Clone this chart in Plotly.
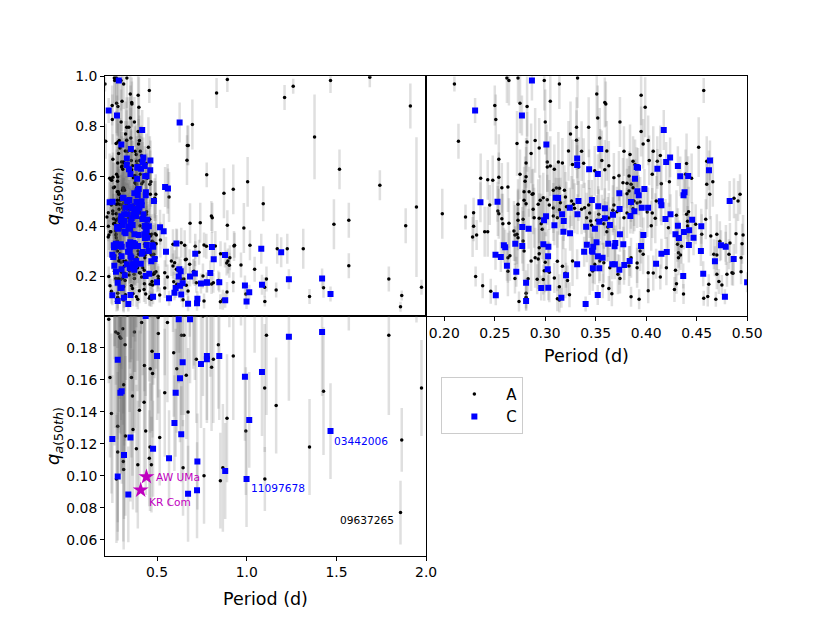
import plotly.graph_objects as go

# (period, q, err) rows
A_short = [
    (0.210, 0.969, 0.03), (0.214, 0.740, 0.07), (0.262, 0.993, 0.10), (0.264, 0.983, 0.10),
    (0.273, 0.993, 0.10), (0.299, 0.983, 0.12), (0.314, 0.969, 0.10), (0.332, 0.993, 0.12),
    (0.351, 0.929, 0.10), (0.359, 0.895, 0.10), (0.360, 0.889, 0.09), (0.374, 0.817, 0.10),
    (0.395, 0.924, 0.12), (0.399, 0.876, 0.12), (0.402, 0.743, 0.10), (0.395, 0.779, 0.10),
    (0.457, 0.943, 0.05), (0.452, 0.716, 0.12), (0.275, 0.892, 0.12), (0.282, 0.879, 0.12),
    (0.272, 0.731, 0.13), (0.254, 0.668, 0.10), (0.251, 0.827, 0.10), (0.250, 0.883, 0.08),
    (0.305, 0.900, 0.12), (0.331, 0.796, 0.12), (0.300, 0.817, 0.13), (0.282, 0.737, 0.12),
    (0.286, 0.691, 0.12), (0.290, 0.743, 0.13), (0.294, 0.713, 0.12), (0.302, 0.657, 0.12),
    (0.281, 0.653, 0.10), (0.275, 0.607, 0.10), (0.302, 0.636, 0.10), (0.305, 0.640, 0.12),
    (0.309, 0.627, 0.10), (0.313, 0.657, 0.12), (0.323, 0.701, 0.12), (0.317, 0.653, 0.10),
    (0.327, 0.647, 0.10), (0.333, 0.636, 0.12), (0.336, 0.700, 0.12), (0.338, 0.652, 0.10),
    (0.356, 0.663, 0.12), (0.349, 0.621, 0.10), (0.359, 0.625, 0.12), (0.361, 0.701, 0.12),
    (0.325, 0.769, 0.13), (0.331, 0.744, 0.12), (0.343, 0.796, 0.12), (0.352, 0.833, 0.13),
    (0.354, 0.753, 0.12), (0.378, 0.700, 0.10), (0.384, 0.687, 0.12), (0.397, 0.729, 0.10),
    (0.403, 0.663, 0.10), (0.407, 0.700, 0.10), (0.414, 0.683, 0.12), (0.411, 0.660, 0.10),
    (0.387, 0.660, 0.10), (0.383, 0.600, 0.10), (0.373, 0.601, 0.10), (0.389, 0.647, 0.10),
    (0.377, 0.573, 0.10), (0.363, 0.641, 0.10), (0.368, 0.593, 0.10), (0.385, 0.567, 0.10),
    (0.406, 0.607, 0.10), (0.415, 0.569, 0.10), (0.423, 0.577, 0.10), (0.440, 0.651, 0.12),
    (0.439, 0.607, 0.10), (0.460, 0.660, 0.10), (0.445, 0.591, 0.10), (0.460, 0.567, 0.10),
    (0.466, 0.577, 0.10), (0.487, 0.511, 0.08), (0.493, 0.527, 0.08), (0.491, 0.500, 0.08),
    (0.463, 0.527, 0.10),
    (0.198, 0.449, 0.10), (0.221, 0.436, 0.05), (0.229, 0.453, 0.06), (0.229, 0.399, 0.06),
    (0.232, 0.364, 0.06), (0.236, 0.591, 0.10), (0.243, 0.585, 0.08), (0.245, 0.484, 0.08),
    (0.243, 0.377, 0.10), (0.240, 0.377, 0.10), (0.248, 0.583, 0.10), (0.254, 0.595, 0.10),
    (0.257, 0.553, 0.10), (0.263, 0.556, 0.10), (0.253, 0.460, 0.10), (0.254, 0.449, 0.10),
    (0.257, 0.429, 0.10), (0.264, 0.411, 0.10), (0.269, 0.380, 0.12), (0.273, 0.487, 0.10),
    (0.273, 0.449, 0.10), (0.281, 0.597, 0.12), (0.280, 0.579, 0.10), (0.279, 0.537, 0.10),
    (0.284, 0.537, 0.10), (0.288, 0.529, 0.10), (0.279, 0.503, 0.10), (0.281, 0.489, 0.10),
    (0.287, 0.527, 0.10), (0.288, 0.467, 0.10), (0.289, 0.433, 0.12), (0.294, 0.431, 0.10),
    (0.296, 0.409, 0.12), (0.297, 0.387, 0.12), (0.293, 0.487, 0.10), (0.295, 0.503, 0.10),
    (0.298, 0.513, 0.10), (0.302, 0.505, 0.10), (0.304, 0.484, 0.10), (0.308, 0.543, 0.10),
    (0.308, 0.472, 0.10), (0.314, 0.465, 0.10), (0.312, 0.433, 0.12), (0.308, 0.440, 0.10),
    (0.311, 0.552, 0.10), (0.314, 0.551, 0.10), (0.319, 0.543, 0.10), (0.320, 0.516, 0.10),
    (0.315, 0.493, 0.10), (0.321, 0.477, 0.10), (0.326, 0.500, 0.10), (0.328, 0.487, 0.10),
    (0.329, 0.471, 0.10), (0.336, 0.467, 0.10), (0.339, 0.473, 0.10), (0.343, 0.484, 0.10),
    (0.341, 0.433, 0.10), (0.344, 0.452, 0.10), (0.345, 0.420, 0.10), (0.346, 0.403, 0.12),
    (0.351, 0.423, 0.10), (0.353, 0.447, 0.10), (0.356, 0.425, 0.10), (0.358, 0.409, 0.10),
    (0.362, 0.396, 0.12), (0.361, 0.377, 0.12), (0.363, 0.432, 0.10), (0.367, 0.463, 0.10),
    (0.368, 0.484, 0.10), (0.371, 0.457, 0.10), (0.378, 0.433, 0.10), (0.381, 0.452, 0.10),
    (0.385, 0.489, 0.10), (0.387, 0.469, 0.10), (0.388, 0.500, 0.10), (0.391, 0.492, 0.10),
    (0.394, 0.496, 0.10), (0.381, 0.529, 0.10), (0.383, 0.540, 0.10), (0.387, 0.553, 0.10),
    (0.381, 0.571, 0.10), (0.401, 0.456, 0.10), (0.406, 0.452, 0.10), (0.409, 0.431, 0.10),
    (0.405, 0.401, 0.10), (0.410, 0.500, 0.10), (0.422, 0.393, 0.10), (0.430, 0.443, 0.10),
    (0.440, 0.447, 0.10), (0.442, 0.457, 0.10), (0.441, 0.419, 0.10), (0.432, 0.293, 0.06),
    (0.434, 0.284, 0.06), (0.441, 0.400, 0.08), (0.449, 0.407, 0.08), (0.455, 0.367, 0.08),
    (0.459, 0.427, 0.08), (0.464, 0.360, 0.08), (0.470, 0.367, 0.08), (0.473, 0.339, 0.08),
    (0.479, 0.324, 0.08), (0.483, 0.332, 0.08), (0.489, 0.369, 0.08), (0.496, 0.364, 0.08),
    (0.495, 0.329, 0.08), (0.494, 0.273, 0.06), (0.482, 0.287, 0.06), (0.467, 0.287, 0.06),
    (0.470, 0.284, 0.06), (0.485, 0.213, 0.05), (0.480, 0.207, 0.05), (0.494, 0.217, 0.05),
    (0.486, 0.211, 0.05),
    (0.228, 0.356, 0.08), (0.263, 0.273, 0.10), (0.263, 0.219, 0.10), (0.265, 0.281, 0.10),
    (0.272, 0.367, 0.12), (0.273, 0.353, 0.12), (0.278, 0.340, 0.12), (0.279, 0.300, 0.12),
    (0.286, 0.260, 0.12), (0.290, 0.273, 0.12), (0.293, 0.268, 0.12), (0.294, 0.289, 0.12),
    (0.300, 0.255, 0.12), (0.299, 0.221, 0.12), (0.304, 0.215, 0.12), (0.312, 0.259, 0.12),
    (0.317, 0.239, 0.12), (0.320, 0.211, 0.10), (0.327, 0.260, 0.10), (0.344, 0.204, 0.08),
    (0.347, 0.220, 0.08), (0.349, 0.247, 0.08), (0.354, 0.260, 0.08), (0.358, 0.253, 0.08),
    (0.364, 0.233, 0.08), (0.372, 0.207, 0.08), (0.378, 0.245, 0.08), (0.383, 0.240, 0.08),
    (0.385, 0.273, 0.08), (0.391, 0.233, 0.08), (0.391, 0.252, 0.08), (0.394, 0.300, 0.08),
    (0.397, 0.287, 0.08), (0.402, 0.213, 0.07), (0.407, 0.212, 0.07), (0.420, 0.233, 0.07),
    (0.431, 0.327, 0.07), (0.432, 0.273, 0.07), (0.429, 0.223, 0.07), (0.435, 0.319, 0.07),
    (0.470, 0.207, 0.06), (0.294, 0.313, 0.12), (0.278, 0.427, 0.12), (0.273, 0.423, 0.12),
    (0.270, 0.364, 0.12), (0.258, 0.409, 0.12),
]

A_long = [
    (0.892, 0.987, 0.05), (0.832, 0.933, 0.06), (0.697, 0.807, 0.10), (0.669, 0.723, 0.08),
    (0.674, 0.723, 0.08), (0.667, 0.664, 0.10), (0.777, 0.605, 0.05), (1.005, 0.577, 0.10),
    (0.873, 0.531, 0.10), (0.925, 0.547, 0.10), (1.092, 0.489, 0.07), (0.684, 0.411, 0.08),
    (0.741, 0.413, 0.08), (0.803, 0.440, 0.06), (0.808, 0.433, 0.06), (0.892, 0.403, 0.06),
    (0.984, 0.392, 0.10), (1.018, 0.323, 0.06), (0.932, 0.323, 0.05), (0.888, 0.252, 0.05),
    (0.903, 0.243, 0.05), (0.968, 0.244, 0.05), (0.762, 0.324, 0.05), (0.775, 0.319, 0.05),
    (0.825, 0.320, 0.06), (0.713, 0.319, 0.05), (0.734, 0.295, 0.05), (0.854, 0.289, 0.05),
    (0.589, 0.327, 0.06), (0.611, 0.327, 0.06), (0.567, 0.516, 0.10), (0.559, 0.549, 0.10),
    (0.658, 0.265, 0.06), (0.682, 0.247, 0.06), (0.702, 0.217, 0.05), (1.044, 0.227, 0.05),
    (1.170, 0.309, 0.06), (1.226, 0.309, 0.06), (1.315, 0.309, 0.08), (1.378, 0.757, 0.17),
    (1.211, 0.915, 0.05), (1.259, 0.960, 0.03), (1.467, 0.983, 0.05), (1.686, 0.996, 0.04),
    (1.517, 0.627, 0.08), (1.486, 0.407, 0.10), (1.569, 0.423, 0.07), (1.569, 0.241, 0.05),
    (1.742, 0.563, 0.06), (1.886, 0.401, 0.07), (1.912, 0.881, 0.09), (1.946, 0.476, 0.28),
    (0.519, 0.344, 0.07), (0.635, 0.333, 0.06), (0.654, 0.323, 0.06), (0.929, 0.320, 0.06),
    (0.580, 0.260, 0.06), (0.589, 0.240, 0.05), (0.598, 0.253, 0.05), (0.663, 0.267, 0.06),
    (0.706, 0.219, 0.05), (0.756, 0.200, 0.05), (0.543, 0.213, 0.05), (0.608, 0.227, 0.05),
    (0.617, 0.200, 0.05), (0.895, 0.260, 0.05), (0.906, 0.273, 0.05),
]

A_low = [
    (0.231, 0.198, 0.04), (0.238, 0.1615, 0.05), (0.246, 0.139, 0.05), (0.270, 0.190, 0.06),
    (0.283, 0.189, 0.06), (0.292, 0.187, 0.06), (0.298, 0.186, 0.06), (0.309, 0.192, 0.06),
    (0.322, 0.182, 0.06), (0.314, 0.157, 0.05), (0.357, 0.1615, 0.05), (0.363, 0.150, 0.05),
    (0.374, 0.190, 0.06), (0.281, 0.131, 0.06), (0.281, 0.115, 0.05), (0.312, 0.109, 0.05),
    (0.314, 0.104, 0.05), (0.274, 0.098, 0.04), (0.385, 0.117, 0.04), (0.393, 0.107, 0.04),
    (0.402, 0.141, 0.05), (0.428, 0.146, 0.05), (0.437, 0.128, 0.04), (0.461, 0.118, 0.04),
    (0.472, 0.178, 0.05), (0.506, 0.199, 0.05), (0.507, 0.189, 0.05), (0.558, 0.196, 0.05),
    (0.515, 0.124, 0.03), (0.543, 0.152, 0.04), (0.593, 0.177, 0.04), (0.610, 0.167, 0.04),
    (0.636, 0.188, 0.05), (0.650, 0.188, 0.05), (0.663, 0.163, 0.04), (0.673, 0.140, 0.04),
    (0.645, 0.105, 0.03), (0.762, 0.100, 0.03), (0.842, 0.182, 0.04), (0.804, 0.168, 0.04),
    (0.814, 0.173, 0.04), (0.867, 0.105, 0.04), (0.853, 0.097, 0.03), (0.890, 0.136, 0.04),
    (0.925, 0.175, 0.04), (0.719, 0.173, 0.04), (0.995, 0.128, 0.04), (1.100, 0.155, 0.04),
    (1.101, 0.098, 0.02), (1.110, 0.188, 0.05), (1.164, 0.144, 0.03), (1.350, 0.118, 0.03),
    (1.428, 0.153, 0.04), (1.792, 0.188, 0.05), (1.864, 0.1225, 0.02), (1.857, 0.077, 0.02),
    (1.974, 0.155, 0.03), (0.414, 0.196, 0.05), (0.430, 0.169, 0.04), (0.462, 0.167, 0.04),
    (0.475, 0.164, 0.04), (0.457, 0.111, 0.03), (0.469, 0.107, 0.03), (0.366, 0.129, 0.05),
    (0.324, 0.125, 0.05),
]

C_short = [
    (0.2305, 0.863, 0.05), (0.2868, 0.983, 0.08), (0.2769, 0.843, 0.08), (0.3011, 0.727, 0.08),
    (0.3545, 0.709, 0.08), (0.4174, 0.785, 0.08), (0.3316, 0.671, 0.08), (0.3316, 0.644, 0.08),
    (0.3435, 0.627, 0.08), (0.3521, 0.608, 0.08), (0.3906, 0.636, 0.08), (0.3919, 0.633, 0.08),
    (0.4111, 0.629, 0.08), (0.4198, 0.657, 0.08), (0.4237, 0.675, 0.08), (0.4314, 0.640, 0.08),
    (0.4337, 0.599, 0.08), (0.4416, 0.600, 0.08), (0.4632, 0.663, 0.08), (0.4622, 0.623, 0.08),
    (0.4827, 0.500, 0.08), (0.2358, 0.495, 0.08), (0.2527, 0.497, 0.08), (0.3104, 0.513, 0.08),
    (0.3127, 0.512, 0.08), (0.3329, 0.500, 0.08), (0.3243, 0.473, 0.08), (0.3462, 0.504, 0.08),
    (0.3525, 0.479, 0.08), (0.3591, 0.471, 0.08), (0.3734, 0.531, 0.08), (0.3737, 0.468, 0.08),
    (0.3849, 0.496, 0.08), (0.3889, 0.589, 0.08), (0.3912, 0.539, 0.08), (0.3982, 0.548, 0.08),
    (0.3956, 0.473, 0.08), (0.4019, 0.473, 0.08), (0.3883, 0.459, 0.08), (0.3926, 0.523, 0.08),
    (0.4145, 0.499, 0.08), (0.4151, 0.483, 0.08), (0.4380, 0.535, 0.08), (0.4370, 0.523, 0.08),
    (0.4241, 0.447, 0.08), (0.4191, 0.428, 0.08), (0.3008, 0.439, 0.08), (0.2988, 0.423, 0.08),
    (0.3091, 0.403, 0.08), (0.2772, 0.396, 0.08), (0.2835, 0.389, 0.08), (0.3167, 0.447, 0.08),
    (0.3183, 0.420, 0.08), (0.3319, 0.447, 0.08), (0.3246, 0.371, 0.07), (0.3180, 0.377, 0.07),
    (0.3492, 0.389, 0.07), (0.3405, 0.397, 0.07), (0.3535, 0.417, 0.07), (0.3591, 0.431, 0.07),
    (0.3641, 0.404, 0.07), (0.3671, 0.445, 0.07), (0.3740, 0.367, 0.07), (0.3843, 0.440, 0.07),
    (0.3972, 0.364, 0.07), (0.4456, 0.425, 0.07), (0.4314, 0.401, 0.07), (0.4426, 0.383, 0.07),
    (0.4373, 0.376, 0.07), (0.4290, 0.367, 0.07), (0.4324, 0.352, 0.07), (0.4469, 0.353, 0.07),
    (0.4546, 0.399, 0.07), (0.4423, 0.324, 0.07), (0.2590, 0.323, 0.07), (0.2603, 0.315, 0.07),
    (0.2703, 0.329, 0.07), (0.2772, 0.320, 0.07), (0.2981, 0.327, 0.07), (0.3031, 0.317, 0.07),
    (0.3412, 0.325, 0.07), (0.3462, 0.301, 0.07), (0.3475, 0.317, 0.07), (0.3508, 0.335, 0.07),
    (0.3624, 0.329, 0.07), (0.3694, 0.332, 0.07), (0.3687, 0.319, 0.07), (0.3773, 0.327, 0.07),
    (0.3949, 0.320, 0.07), (0.3468, 0.297, 0.06), (0.3385, 0.297, 0.06), (0.2507, 0.285, 0.06),
    (0.2560, 0.276, 0.06), (0.3028, 0.279, 0.06), (0.2620, 0.241, 0.06), (0.2713, 0.217, 0.06),
    (0.3024, 0.227, 0.06), (0.3316, 0.247, 0.06), (0.3472, 0.231, 0.06), (0.3521, 0.279, 0.06),
    (0.3568, 0.273, 0.06), (0.3664, 0.247, 0.06), (0.3690, 0.247, 0.06), (0.3734, 0.225, 0.06),
    (0.3783, 0.244, 0.06), (0.3836, 0.260, 0.06), (0.3535, 0.231, 0.06), (0.4098, 0.249, 0.06),
    (0.4151, 0.289, 0.06), (0.4204, 0.296, 0.06), (0.4542, 0.300, 0.06), (0.4681, 0.259, 0.06),
    (0.4788, 0.317, 0.06), (0.4741, 0.323, 0.06), (0.4867, 0.268, 0.06), (0.4565, 0.209, 0.05),
    (0.4367, 0.200, 0.05), (0.3206, 0.203, 0.05),
]

C_long = [
    (0.545, 0.556, 0.08), (0.561, 0.550, 0.08), (0.626, 0.815, 0.08), (0.608, 0.330, 0.06),
    (0.550, 0.297, 0.06), (0.517, 0.395, 0.07), (0.537, 0.379, 0.07), (0.624, 0.227, 0.05),
    (0.632, 0.219, 0.05), (0.713, 0.289, 0.05), (0.711, 0.210, 0.05), (0.797, 0.212, 0.05),
    (0.806, 0.316, 0.06), (0.816, 0.267, 0.05), (0.879, 0.284, 0.05), (1.081, 0.309, 0.06),
    (1.192, 0.295, 0.06),
]

C_low = [
    (0.281, 0.1727, 0.05), (0.296, 0.152, 0.05), (0.303, 0.153, 0.05), (0.251, 0.123, 0.04),
    (0.352, 0.124, 0.04), (0.316, 0.113, 0.04), (0.281, 0.0996, 0.04), (0.340, 0.0884, 0.03),
    (0.500, 0.175, 0.04), (0.478, 0.117, 0.03), (0.567, 0.111, 0.03), (0.621, 0.198, 0.04),
    (0.684, 0.198, 0.04), (0.604, 0.152, 0.04), (0.597, 0.133, 0.03), (0.628, 0.161, 0.04),
    (0.643, 0.171, 0.04), (0.635, 0.126, 0.03), (0.725, 0.109, 0.03), (0.723, 0.091, 0.03),
    (0.673, 0.0888, 0.03), (0.745, 0.170, 0.04), (0.778, 0.175, 0.04), (0.778, 0.173, 0.04),
    (0.847, 0.175, 0.04), (0.880, 0.103, 0.03), (0.990, 0.162, 0.04), (0.999, 0.098, 0.03),
    (1.014, 0.135, 0.03), (1.085, 0.165, 0.04), (1.235, 0.187, 0.04), (1.420, 0.190, 0.04),
    (1.467, 0.128, 0.03),
]

# named systems (bottom panel only)
star_names = ["AW UMa", "KR Com"]
star_period = [0.441, 0.409]
star_q = [0.0994, 0.0911]

# KIC labels next to their points
kic_labels = ["03442006", "11097678", "09637265"]
kic_period = [1.476, 1.012, 1.833]
kic_q = [0.1216, 0.0925, 0.0722]
kic_colors = ["#0000ff", "#0000ff", "#000000"]

A_rows = A_short + A_long + A_low
C_rows = C_short + C_long + C_low
a_p, a_q, a_e = [list(v) for v in zip(*A_rows)]
c_p, c_q, c_e = [list(v) for v in zip(*C_rows)]

BAR = "rgba(110,110,110,0.22)"
FONT = "DejaVu Sans"

# panel edges in graph pixels, tuned so the photographed page lines up
W, H = 814, 607
LEFT, MID, RIGHT = 98.9 / W, 426.0 / W, 753.0 / W
TOP, HMID, BOT = 1 - 61.0 / H, 1 - 304.0 / H, 1 - 547.0 / H

fig = go.Figure()

panels = [("x", "y", True), ("x2", "y2", False), ("x3", "y3", False)]
for xa, ya, leg in panels:
    fig.add_trace(go.Scatter(
        x=a_p, y=a_q, mode="markers", name="A", xaxis=xa, yaxis=ya,
        showlegend=leg, legendgroup="A",
        marker=dict(color="black", size=3.5, symbol="circle"),
        error_y=dict(type="data", array=a_e, visible=True, color=BAR, thickness=2.5, width=0),
    ))
    fig.add_trace(go.Scatter(
        x=c_p, y=c_q, mode="markers", name="C", xaxis=xa, yaxis=ya,
        showlegend=leg, legendgroup="C",
        marker=dict(color="#0000ff", size=6, symbol="square"),
        error_y=dict(type="data", array=c_e, visible=True, color=BAR, thickness=2.5, width=0),
    ))

fig.add_trace(go.Scatter(
    x=star_period, y=star_q, mode="markers", xaxis="x3", yaxis="y3", showlegend=False,
    marker=dict(color="#bf00bf", size=12, symbol="star"),
))

line_style = dict(showline=True, linecolor="black", linewidth=1, mirror=True,
                  showgrid=False, zeroline=False, tickcolor="black", ticklen=4,
                  tickfont=dict(family=FONT, size=13.9, color="black"))

fig.update_layout(
    width=W, height=H,
    margin=dict(l=0, r=0, t=0, b=0),
    paper_bgcolor="white", plot_bgcolor="white",
    font=dict(family=FONT, color="black"),
    xaxis=dict(domain=[LEFT, MID], range=[0.2105, 2.0], anchor="y",
               showticklabels=False, ticks="", **line_style),
    yaxis=dict(domain=[HMID, TOP], range=[0.04, 1.0], anchor="x", ticks="outside",
               tickvals=[0.2, 0.4, 0.6, 0.8, 1.0], ticktext=["0.2", "0.4", "0.6", "0.8", "1.0"],
               **line_style),
    xaxis2=dict(domain=[MID, RIGHT], range=[0.182, 0.5], anchor="y2", ticks="outside",
                tickvals=[0.20, 0.25, 0.30, 0.35, 0.40, 0.45, 0.50],
                ticktext=["0.20", "0.25", "0.30", "0.35", "0.40", "0.45", "0.50"],
                **line_style),
    yaxis2=dict(domain=[HMID, TOP], range=[0.04, 1.0], anchor="x2",
                showticklabels=False, ticks="", **line_style),
    xaxis3=dict(domain=[LEFT, MID], range=[0.2105, 2.0], anchor="y3", ticks="outside",
                tickvals=[0.5, 1.0, 1.5, 2.0], ticktext=["0.5", "1.0", "1.5", "2.0"],
                **line_style),
    yaxis3=dict(domain=[BOT, HMID], range=[0.05, 0.2], anchor="x3", ticks="outside",
                tickvals=[0.06, 0.08, 0.10, 0.12, 0.14, 0.16, 0.18],
                ticktext=["0.06", "0.08", "0.10", "0.12", "0.14", "0.16", "0.18"],
                **line_style),
    legend=dict(x=441.5 / W, y=1 - 365.5 / H, xanchor="left", yanchor="top",
                bgcolor="white", bordercolor="#cccccc", borderwidth=1,
                font=dict(family=FONT, size=15, color="black"),
                itemwidth=54, tracegroupgap=0),
)

ylab = "<i>q</i><sub><i>a</i>(50<i>th</i>)</sub>"
for yc in [(TOP + HMID) / 2, (HMID + BOT) / 2]:
    fig.add_annotation(text=ylab, xref="paper", yref="paper", x=47 / W, y=yc,
                       textangle=-90, showarrow=False, xanchor="center", yanchor="middle",
                       font=dict(family=FONT, size=18, color="black"))
for xc, yc in [((MID + RIGHT) / 2, 1 - 344.5 / H), ((LEFT + MID) / 2, 1 - 590.5 / H)]:
    fig.add_annotation(text="Period (d)", xref="paper", yref="paper", x=xc, y=yc,
                       showarrow=False, xanchor="center", yanchor="middle",
                       font=dict(family=FONT, size=17.5, color="black"))

# star labels
fig.add_annotation(text=star_names[0], x=0.481, y=star_q[0], xref="x3", yref="y3",
                   showarrow=False, xanchor="left", yanchor="middle",
                   font=dict(family=FONT, size=10.6, color="#bf00bf"))
fig.add_annotation(text=star_names[1], x=0.442, y=0.0838, xref="x3", yref="y3",
                   showarrow=False, xanchor="left", yanchor="middle",
                   font=dict(family=FONT, size=10.6, color="#bf00bf"))
for i, lab in enumerate(kic_labels):
    fig.add_annotation(text=lab, x=kic_period[i], y=kic_q[i], xref="x3", yref="y3",
                       showarrow=False, xanchor="right" if kic_colors[i] == "#000000" else "left",
                       yanchor="middle", font=dict(family=FONT, size=10.6, color=kic_colors[i]))

fig.write_html("out.html")
